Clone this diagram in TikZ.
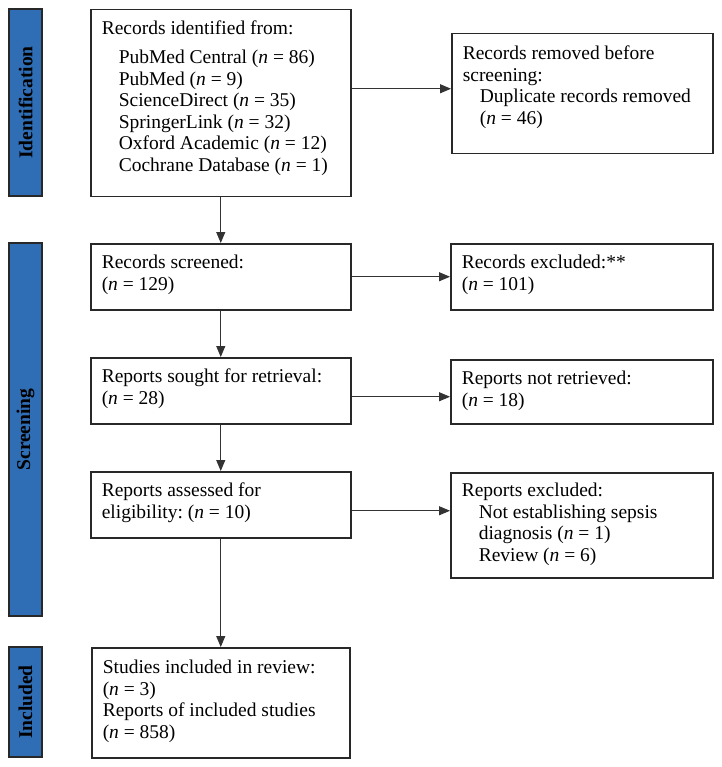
\documentclass[tikz,border=0pt]{standalone}
\usepackage{fontspec}
\setmainfont{Liberation Serif}
\usetikzlibrary{arrows.meta}
\definecolor{barblue}{RGB}{47,109,181}
\definecolor{edgecol}{RGB}{40,40,40}
\newcommand{\bxt}[4]{\begin{minipage}[c][#2][t]{#1}\raggedright\frenchspacing\rule{0pt}{#3}#4\end{minipage}}
\newcommand{\ind}{\hspace*{17pt}}
\newcommand{\nn}{\textit{n}}
\begin{document}
\frenchspacing
\begin{tikzpicture}[x=1pt,y=-1pt,
  boxnode/.style={draw=edgecol, line width=1.5pt, fill=white, inner xsep=11pt, inner ysep=0pt, anchor=north west, font=\fontsize{19.5}{21.5}\selectfont},
  barnode/.style={draw=edgecol, line width=1.3pt, fill=barblue, inner sep=0pt, rotate=90, font=\fontsize{19.5}{21.5}\selectfont\bfseries},
  arr/.style={draw=black!80, line width=1pt, -{Triangle[length=11pt,width=9pt]}}]
\useasboundingbox (0,0) rectangle (721,767);
\fill[white] (0,0) rectangle (721,767);

% side bars
\node[barnode, minimum width=187pt, minimum height=33pt] (idbar) at (25.5,102.5) {Identification};
\node[barnode, minimum width=373pt, minimum height=33pt] (scrbar) at (25.5,429.5) {Screening};
\node[barnode, minimum width=110pt, minimum height=33pt] (incbar) at (25.5,702) {Included};

% boxes
\node[boxnode] (box1) at (90,9) {\bxt{238pt}{187pt}{25pt}{Records identified from:\\[7.5pt]
\ind PubMed Central (\nn{} = 86)\\
\ind PubMed (\nn{} = 9)\\
\ind ScienceDirect (\nn{} = 35)\\
\ind SpringerLink (\nn{} = 32)\\
\ind Oxford Academic (\nn{} = 12)\\
\ind Cochrane Database (\nn{} = 1)}};

\node[boxnode] (removed) at (451,33) {\bxt{239pt}{120pt}{26pt}{Records removed before\\
screening:\\
\ind Duplicate records removed\\
\ind (\nn{} = 46)}};

\node[boxnode] (screened) at (90,243) {\bxt{238pt}{66pt}{25pt}{Records screened:\\
(\nn{} = 129)}};

\node[boxnode] (excluded) at (450,243) {\bxt{240pt}{66pt}{25pt}{Records excluded:**\\
(\nn{} = 101)}};

\node[boxnode] (sought) at (90,357) {\bxt{238pt}{66pt}{25pt}{Reports sought for retrieval:\\
(\nn{} = 28)}};

\node[boxnode] (notret) at (450,359) {\bxt{240pt}{64pt}{25pt}{Reports not retrieved:\\
(\nn{} = 18)}};

\node[boxnode] (assessed) at (90,471) {\bxt{238pt}{66pt}{25pt}{Reports assessed for\\
eligibility: (\nn{} = 10)}};

\node[boxnode] (repexcl) at (450,472) {\bxt{240pt}{105pt}{24pt}{Reports excluded:\\
\ind Not establishing sepsis\\
\ind diagnosis (\nn{} = 1)\\
\ind Review (\nn{} = 6)}};

\node[boxnode] (studies) at (91,647) {\bxt{236pt}{110pt}{26pt}{Studies included in review:\\
(\nn{} = 3)\\
Reports of included studies\\
(\nn{} = 858)}};

% connectors
\coordinate (a1) at ([yshift=5pt]removed.west);
\draw[arr] (box1.east |- a1) -- (a1);
\draw[arr] (screened.east |- excluded.west) -- (excluded.west);
\coordinate (a3) at ([yshift=-5pt]notret.west);
\draw[arr] (sought.east |- a3) -- (a3);
\coordinate (a4) at ([yshift=14.5pt]repexcl.west);
\draw[arr] (assessed.east |- a4) -- (a4);

\draw[arr] (box1.south) -- (screened.north);
\draw[arr] (screened.south) -- (sought.north);
\draw[arr] (sought.south) -- (assessed.north);
\draw[arr] (assessed.south) -- (assessed.south |- studies.north);
\end{tikzpicture}
\end{document}
